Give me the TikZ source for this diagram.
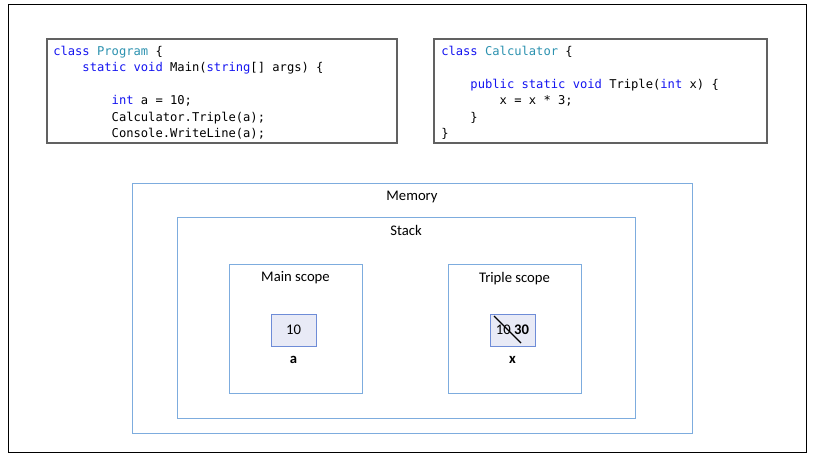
\documentclass[tikz,border=0pt]{standalone}
\usepackage{fontspec}
\setmainfont{Carlito}
\newfontfamily\codefont{DejaVu Sans Mono}
\usetikzlibrary{positioning}
\definecolor{kwBlue}{RGB}{20,20,240}
\definecolor{typeTeal}{RGB}{43,145,175}
\definecolor{memBlue}{RGB}{125,172,222}
\definecolor{cellBlue}{RGB}{110,140,215}
\definecolor{cellFill}{RGB}{232,234,246}
\newcommand{\kw}[1]{\textcolor{kwBlue}{#1}}
\newcommand{\ty}[1]{\textcolor{typeTeal}{#1}}
\newcommand{\ind}{\phantom{0000}}

\begin{document}
\begin{tikzpicture}[
        x=0.75pt, y=-0.75pt,
        codebox/.style={rectangle, draw=black!62, line width=0.8pt, minimum height=78pt, inner sep=0pt},
        code/.style={anchor=north west, inner sep=0pt, align=left, font=\codefont\fontsize{9.1}{12.3}\selectfont},
        area/.style={rectangle, draw=memBlue, line width=0.65pt, inner sep=0pt},
        cell/.style={rectangle, draw=cellBlue, fill=cellFill, line width=0.65pt, minimum width=33.75pt, minimum height=24pt, inner sep=0pt, font=\fontsize{11}{13}\selectfont},
        title/.style={inner sep=0pt, font=\fontsize{11}{13}\selectfont},
        varname/.style={inner sep=0pt, font=\fontsize{11}{13}\selectfont\bfseries}
    ]
        \useasboundingbox (0,0) rectangle (815,454);
        \draw[line width=0.75pt] (8,4) rectangle (806,452);

        % Code
        \node[codebox, minimum width=262.5pt] (prog) at (222,91) {};
        \node[code] (progcode) at (53,46) {
            \kw{class} \ty{Program} \{\\
            \ind\kw{static} \kw{void} Main(\kw{string}[] args) \{\\
            ~\\
            \ind\ind\kw{int} a = 10;\\
            \ind\ind Calculator.Triple(a);\\
            \ind\ind Console.WriteLine(a);
        };
        \node[codebox, minimum width=249.75pt] (calc) at (600.5,91) {};
        \node[code] (calccode) at (441,46) {
            \kw{class} \ty{Calculator} \{\\
            ~\\
            \ind\kw{public} \kw{static} \kw{void} Triple(\kw{int} x) \{\\
            \ind\ind x = x * 3;\\
            \ind\}\\
            \}
        };

        % Memory
        \node[area, minimum width=420pt, minimum height=187.5pt] (mem) at (412,308) {};
        \node[title, below=6pt of mem.north] (memlbl) {Memory};
        \node[area, minimum width=343.5pt, minimum height=150.75pt] (stack) at (406,317.5) {};
        \node[title, below=6pt of stack.north] (stacklbl) {Stack};

        % Scopes
        \node[area, minimum width=99.75pt, minimum height=96.75pt] (mainsc) at (295.5,328.5) {};
        \node[title, below=6pt of mainsc.north] (mainlbl) {Main scope};
        \node[cell] (vala) at (293.5,330) {10};
        \node[varname, below=7.5pt of vala] (namea) {a};

        \node[area, minimum width=99.75pt, minimum height=96.75pt] (triplesc) at (514.5,328.5) {};
        \node[title, below=6pt of triplesc.north] (triplelbl) {Triple scope};
        \node[cell] (valx) at (512.5,330) {10 \textbf{30}};
        \node[varname, below=7.5pt of valx] (namex) {x};
        \coordinate (strikeA) at (494,316);
        \coordinate (strikeB) at (521,343);
        \draw[line width=0.9pt] (strikeA) -- (strikeB);
    \end{tikzpicture}
\end{document}
